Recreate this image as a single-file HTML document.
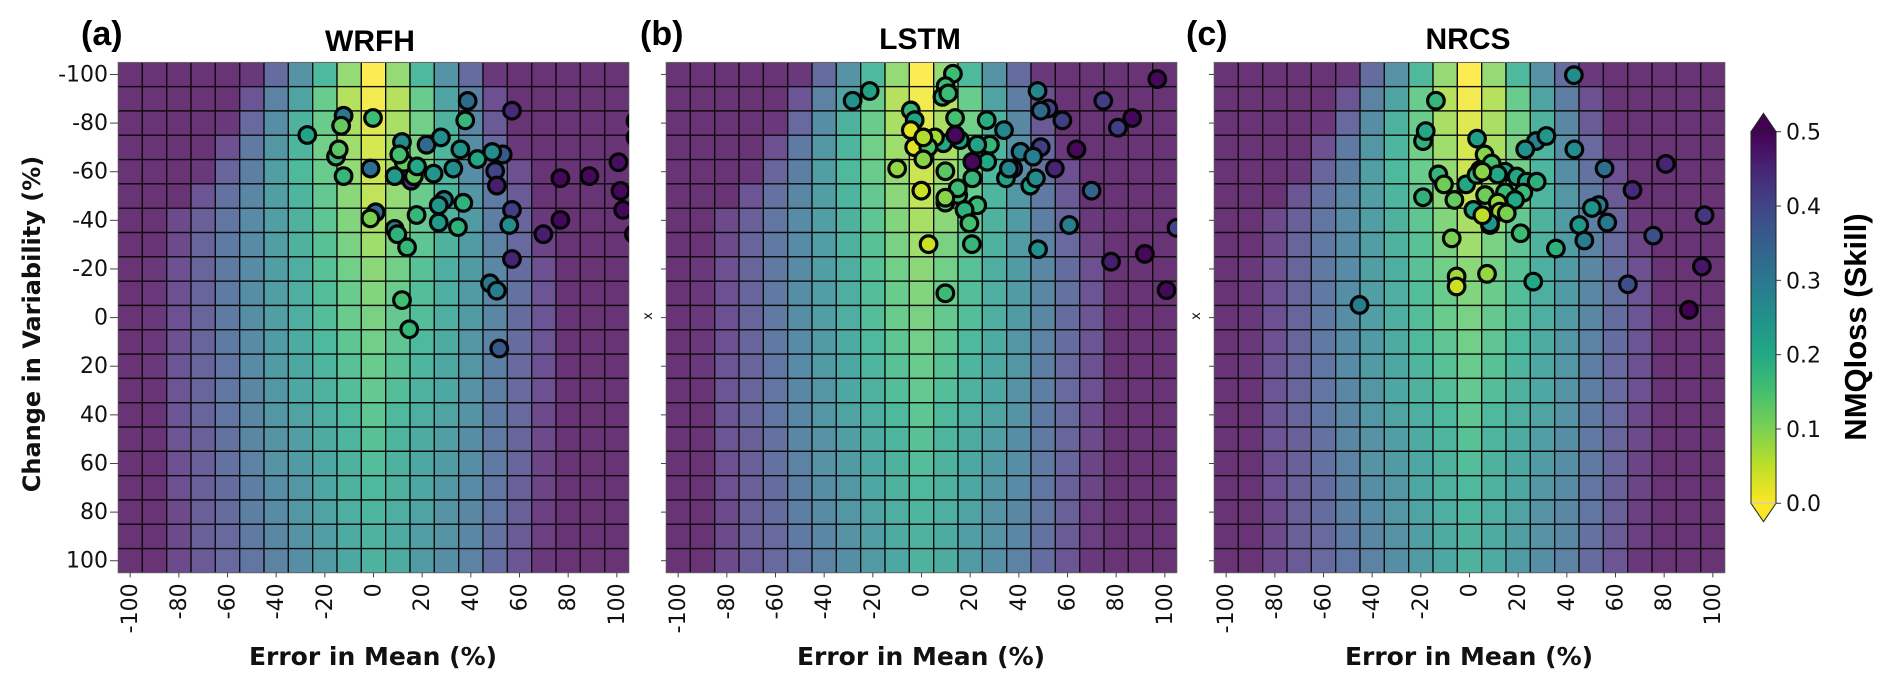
<!DOCTYPE html>
<html lang="en">
<head>
<meta charset="utf-8">
<title>NMQloss skill by error in mean and change in variability</title>
<style>
html,body{margin:0;padding:0;background:#fff;}
svg{display:block;}
text{fill:#111;}
.tick-label{font-family:"DejaVu Sans",sans-serif;font-size:22px;}
.axis-title{font-family:"DejaVu Sans",sans-serif;font-weight:bold;}
.arial-bold{font-family:"Liberation Sans",sans-serif;font-weight:bold;fill:#000;}
</style>
</head>
<body>
<svg id="figure" xmlns="http://www.w3.org/2000/svg" width="1892" height="688" viewBox="0 0 1892 688">
  <defs id="defs"></defs>
  <text class="arial-bold" x="81" y="45" font-size="34">(a)</text>
  <text class="arial-bold" x="640" y="45" font-size="34">(b)</text>
  <text class="arial-bold" x="1186" y="45" font-size="34">(c)</text>
  <text class="arial-bold" x="370" y="51" font-size="30" text-anchor="middle">WRFH</text>
  <text class="arial-bold" x="920" y="49" font-size="30" text-anchor="middle">LSTM</text>
  <text class="arial-bold" x="1468" y="49" font-size="30" text-anchor="middle">NRCS</text>
  <text class="axis-title" x="373" y="665" font-size="25" text-anchor="middle">Error in Mean (%)</text>
  <text class="axis-title" x="921" y="665" font-size="25" text-anchor="middle">Error in Mean (%)</text>
  <text class="axis-title" x="1469" y="665" font-size="25" text-anchor="middle">Error in Mean (%)</text>
  <text class="axis-title" transform="translate(40 324) rotate(-90)" font-size="24" text-anchor="middle">Change in Variability (%)</text>
  <text class="tick-label" transform="translate(652 316) rotate(-90)" style="font-size:13px" text-anchor="middle">x</text>
  <text class="tick-label" transform="translate(1200 316) rotate(-90)" style="font-size:13px" text-anchor="middle">x</text>
  <text class="arial-bold" transform="translate(1866 327) rotate(-90)" font-size="31" text-anchor="middle">NMQloss (Skill)</text>
</svg>
<script>
// ---------- chart data ----------
const errorInMeanCategories = [-100,-90,-80,-70,-60,-50,-40,-30,-20,-10,0,10,20,30,40,50,60,70,80,90,100];
const changeInVariabilityCategories = [-100,-90,-80,-70,-60,-50,-40,-30,-20,-10,0,10,20,30,40,50,60,70,80,90,100];
const xTickLabels = [-100,-80,-60,-40,-20,0,20,40,60,80,100];
const yTickLabels = [-100,-80,-60,-40,-20,0,20,40,60,80,100];
const colorbarTicks = [0,0.1,0.2,0.3,0.4,0.5];

// NMQloss background grid: one row per change-in-variability category
const lossGrid = [
[.5,.5,.5,.5,.5,.49,.39,.30,.20,.10,.00,.10,.20,.30,.39,.49,.5,.5,.5,.5,.5],
[.5,.5,.5,.5,.5,.44,.34,.26,.15,.07,.01,.07,.15,.26,.35,.45,.5,.5,.5,.5,.5],
[.5,.5,.5,.5,.49,.40,.31,.22,.15,.08,.03,.08,.14,.22,.33,.43,.5,.5,.5,.5,.5],
[.5,.5,.5,.5,.45,.36,.29,.21,.14,.09,.04,.08,.13,.21,.31,.40,.49,.5,.5,.5,.5],
[.5,.5,.5,.49,.41,.35,.27,.20,.15,.10,.05,.09,.14,.21,.31,.38,.45,.5,.5,.5,.5],
[.5,.5,.5,.44,.38,.33,.27,.21,.16,.11,.06,.10,.15,.21,.29,.36,.43,.5,.5,.5,.5],
[.5,.5,.46,.42,.37,.32,.27,.22,.17,.12,.08,.11,.16,.22,.28,.35,.41,.49,.5,.5,.5],
[.5,.5,.46,.41,.36,.32,.27,.22,.18,.13,.09,.13,.17,.22,.28,.34,.40,.47,.5,.5,.5],
[.5,.49,.45,.41,.36,.32,.27,.23,.18,.14,.11,.14,.18,.23,.28,.33,.39,.45,.5,.5,.5],
[.5,.49,.45,.41,.36,.31,.27,.23,.19,.15,.12,.15,.19,.23,.28,.33,.38,.44,.5,.5,.5],
[.5,.49,.45,.41,.36,.31,.27,.23,.19,.15,.13,.16,.19,.23,.28,.33,.39,.44,.5,.5,.5],
[.5,.49,.45,.41,.36,.32,.28,.24,.20,.17,.14,.17,.20,.24,.29,.34,.39,.44,.5,.5,.5],
[.5,.49,.44,.41,.37,.32,.28,.25,.21,.18,.15,.18,.21,.25,.29,.35,.40,.45,.5,.5,.5],
[.5,.5,.44,.41,.37,.33,.29,.25,.22,.19,.16,.19,.22,.25,.30,.35,.40,.45,.5,.5,.5],
[.5,.5,.44,.41,.37,.33,.29,.26,.23,.20,.17,.20,.23,.26,.30,.36,.40,.46,.5,.5,.5],
[.5,.5,.44,.42,.38,.33,.30,.27,.24,.21,.18,.21,.24,.27,.31,.36,.41,.46,.5,.5,.5],
[.5,.5,.45,.42,.38,.34,.30,.28,.25,.22,.19,.22,.25,.28,.31,.36,.41,.47,.5,.5,.5],
[.5,.5,.45,.42,.39,.35,.31,.29,.25,.22,.20,.22,.25,.29,.32,.37,.42,.47,.5,.5,.5],
[.5,.5,.46,.42,.39,.35,.32,.29,.26,.23,.21,.23,.26,.30,.33,.37,.42,.48,.5,.5,.5],
[.5,.5,.46,.42,.40,.36,.33,.30,.27,.24,.22,.24,.27,.30,.33,.38,.43,.48,.5,.5,.5],
[.5,.5,.46,.43,.40,.37,.34,.31,.28,.25,.22,.24,.28,.31,.34,.39,.44,.49,.5,.5,.5]
];

// WRFH points
const wrfhError = [38.7,56.9,-12.3,-13.3,-0.2,37.7,-27.2,11.7,21.8,27.7,35.7,42.7,53.1,48.8,-15.4,-14.3,12.5,10.6,15.5,16.6,17.9,100.7,-1.2,32.8,8.7,24.7,-12.3,50,50.7,76.8,88.7,101.5,102.6,29,26.8,36.9,17.7,0.9,-1.3,26.8,34.7,56.9,55.8,76.8,69.8,8.7,9.8,13.8,56.9,47.9,50.7,11.7,14.7,51.7,107.7,107.7,107];
const wrfhVariability = [-89.1,-85.1,-83,-78.9,-82.1,-81.1,-75.1,-72.2,-71.1,-74.1,-69.2,-65.2,-67.1,-68.1,-66.2,-69.2,-63.7,-67.1,-56.3,-58.2,-62.2,-63.9,-61.3,-61.3,-58.2,-59.2,-58.2,-60.3,-54.3,-57.3,-58.2,-52.1,-44.3,-48.4,-46.2,-47.2,-42.2,-43.3,-40.8,-39.1,-37.2,-44.3,-38.1,-40.2,-34.3,-36.5,-34.3,-28.9,-24.1,-14.1,-11.1,-7.2,4.8,12.7,-80.9,-74.1,-34.4];
const wrfhSkill = [.33,.44,.30,.12,.16,.17,.21,.26,.33,.26,.25,.20,.36,.26,.16,.13,.12,.15,.40,.12,.20,.48,.32,.26,.23,.24,.17,.40,.46,.49,.49,.49,.49,.28,.24,.18,.17,.33,.10,.23,.18,.41,.26,.49,.46,.28,.18,.17,.45,.30,.29,.15,.17,.36,.49,.49,.49];

// LSTM points
const lstmError = [12.9,9.9,8.6,11,-21.3,-28.3,-4.4,-2.8,13.8,26.8,33.9,-4.4,8.97,15.8,5.5,-3,2.8,0.75,0.75,13.9,28.1,22.9,40.7,49,45.9,63.7,27,20.9,-10,9.8,20.9,37.7,34.7,35.9,54.8,44.7,47,69.9,-0.07,15.1,14.9,9.8,9.8,22.9,17.7,19.7,60.7,104.8,2.9,20.7,47.9,77.9,91.8,100.7,9.8,47.7,52.1,49,57.9,74.7,86.6,80.7,96.9];
const lstmVariability = [-100.3,-95.2,-90.8,-92.2,-93.2,-89.2,-85.2,-81.2,-82.1,-81.2,-77.1,-77.1,-71.7,-73,-74.1,-70.1,-70.1,-74.1,-65.1,-75.1,-71.1,-71.1,-68.2,-70.1,-66.2,-69.2,-64.1,-64.1,-61.3,-60.2,-57.3,-61.3,-57.3,-61.3,-61.3,-54.3,-57.3,-52.2,-52.2,-50.4,-53.2,-47.3,-49.3,-46.2,-44.3,-38.8,-38.1,-36.9,-30.2,-30.2,-28.1,-23,-26.2,-11.3,-10,-93.2,-86,-85.1,-81.1,-89.2,-82.1,-78.1,-98.1];
const lstmSkill = [.16,.16,.18,.16,.21,.25,.17,.21,.15,.19,.27,.02,.20,.22,.07,.02,.14,.06,.09,.49,.17,.21,.29,.41,.29,.49,.20,.49,.08,.13,.17,.45,.21,.27,.45,.21,.26,.34,.04,.16,.16,.13,.09,.16,.18,.15,.29,.40,.04,.17,.25,.46,.49,.49,.16,.27,.40,.33,.41,.41,.49,.41,.49];

// NRCS points
const nrcsError = [42.9,-13.8,-19.1,-18,3.1,27.3,31.6,22.9,43.1,55.5,80.7,67,6.2,-12.8,-10.5,-19.1,-6.2,-1.4,4.3,2.9,9.1,14.6,19.4,23.5,27.6,11.6,5.3,14.6,22.1,18.7,6.4,11.6,1.6,12.5,15.3,8.4,8.4,5.3,21,-7.3,35.5,45.1,53.1,50.3,56.6,47.2,75.5,96.6,95.5,65.1,90.2,-45.2,26.2,7.2,-5.3,-5.3];
const nrcsVariability = [-99.7,-89.2,-72.6,-76.7,-73.6,-72.6,-74.7,-69.2,-69.2,-61.3,-63.2,-52.5,-67.1,-58.9,-54.8,-49.5,-48.4,-54.8,-60.7,-58.7,-63.4,-60,-58,-55.9,-55.9,-58.9,-60,-51.5,-51.4,-48.4,-50.4,-47.3,-44.3,-43.6,-42.9,-38.1,-38.8,-42.1,-34.7,-32.6,-28.4,-38.1,-46.3,-45.1,-39.1,-31.7,-33.7,-42.1,-21,-13.7,-3.2,-5.2,-14.8,-18,-16.9,-12.8];
const nrcsSkill = [.26,.17,.18,.20,.22,.28,.24,.25,.26,.32,.45,.44,.09,.17,.11,.18,.12,.20,.11,.17,.15,.22,.20,.20,.18,.20,.09,.16,.16,.20,.11,.08,.20,.07,.10,.10,.24,.05,.16,.10,.18,.24,.29,.25,.30,.29,.38,.42,.47,.38,.50,.29,.20,.08,.07,.04];

// ---------- viridis colormap (standard reference stops) ----------
const viridisStops = ['#440154','#482475','#414487','#355f8d','#2a788e','#21918c','#22a884','#44bf70','#7ad151','#bddf26','#fde725'];

function hexToRgb(h){return [parseInt(h.slice(1,3),16),parseInt(h.slice(3,5),16),parseInt(h.slice(5,7),16)];}
function viridis(t){
  t=Math.max(0,Math.min(1,t));
  var p=t*(viridisStops.length-1),i=Math.min(Math.floor(p),viridisStops.length-2),f=p-i;
  var a=hexToRgb(viridisStops[i]),b=hexToRgb(viridisStops[i+1]);
  return 'rgb('+Math.round(a[0]+(b[0]-a[0])*f)+','+Math.round(a[1]+(b[1]-a[1])*f)+','+Math.round(a[2]+(b[2]-a[2])*f)+')';
}
var VMAX=0.5;
function skillColor(v){return viridis(1-v/VMAX);}

// ---------- drawing helpers ----------
var NS='http://www.w3.org/2000/svg';
var svg=document.getElementById('figure');
function make(tag,attrs,parent){
  var el=document.createElementNS(NS,tag);
  for(var k in attrs){el.setAttribute(k,attrs[k]);}
  (parent||svg).appendChild(el);
  return el;
}

var PANEL_TOP=62.3,PANEL_SIZE_X=511,PANEL_SIZE_Y=510.6,DOMAIN_MIN=-105,DOMAIN_MAX=105;
function xAxis(left,v){return left+(v-DOMAIN_MIN)/(DOMAIN_MAX-DOMAIN_MIN)*PANEL_SIZE_X;}
function yAxis(v){return PANEL_TOP+(v-DOMAIN_MIN)/(DOMAIN_MAX-DOMAIN_MIN)*PANEL_SIZE_Y;}

function drawPanel(id,left,errs,vars,skills,yLabels,yTickLen){
  var clipId='clip-'+id;
  var clip=make('clipPath',{id:clipId},document.getElementById('defs'));
  make('rect',{x:left,y:PANEL_TOP,width:PANEL_SIZE_X,height:PANEL_SIZE_Y},clip);

  var heat=make('g',{'clip-path':'url(#'+clipId+')'});
  
  
  var stepX=10/(DOMAIN_MAX-DOMAIN_MIN)*PANEL_SIZE_X,stepY=10/(DOMAIN_MAX-DOMAIN_MIN)*PANEL_SIZE_Y;
  changeInVariabilityCategories.forEach(function(yc,r){
    errorInMeanCategories.forEach(function(xc,c){
      var cell=make('rect',{x:xAxis(left,xc)-stepX/2,y:yAxis(yc)-stepY/2,width:stepX,height:stepY,fill:skillColor(lossGrid[r][c]),'fill-opacity':0.8,stroke:'#0d0d0d','stroke-width':1.3},heat);
      
      
    });
  });

  var frame=make('rect',{x:left,y:PANEL_TOP,width:PANEL_SIZE_X,height:PANEL_SIZE_Y,fill:'none',stroke:'#888','stroke-width':0.8});
  
  

  var pts=make('g',{'clip-path':'url(#'+clipId+')'});
  
  
  errs.forEach(function(e,i){
    var dot=make('circle',{cx:xAxis(left,e),cy:yAxis(vars[i]),r:8.3,fill:skillColor(skills[i]),stroke:'#050505','stroke-width':3.2},pts);
    
    
  });

  xTickLabels.forEach(function(v){
    var x=xAxis(left,v),bottom=PANEL_TOP+PANEL_SIZE_Y;
    var t=make('line',{x1:x,x2:x,y1:bottom,y2:bottom+4.5,stroke:'#444','stroke-width':1});
    
    
    var lab=make('text',{'class':'tick-label',transform:'translate('+(x-1)+' '+(bottom+10.5)+') rotate(-90)','text-anchor':'end',dy:'0.36em'});
    
    
    lab.textContent=String(v);
  });
  yTickLabels.forEach(function(v){
    var y=yAxis(v);
    var t=make('line',{x1:left-yTickLen,x2:left,y1:y,y2:y,stroke:'#444','stroke-width':1});
    
    
    if(yLabels){
      var lab=make('text',{'class':'tick-label',x:left-yTickLen-2,y:y-1,dy:'0.36em','text-anchor':'end'});
      
      
      lab.textContent=String(v);
    }
  });
}

drawPanel('wrfh',118,wrfhError,wrfhVariability,wrfhSkill,true,8);
drawPanel('lstm',666,lstmError,lstmVariability,lstmSkill,false,5);
drawPanel('nrcs',1214,nrcsError,nrcsVariability,nrcsSkill,false,5);

// ---------- colorbar ----------
var CB_LEFT=1751,CB_RIGHT=1776,CB_TOP=131.7,CB_BOTTOM=503.3;
function cbAxis(v){return CB_BOTTOM-(v/VMAX)*(CB_BOTTOM-CB_TOP);}
var grad=make('linearGradient',{id:'cbar-gradient',x1:0,y1:1,x2:0,y2:0},document.getElementById('defs'));
viridisStops.slice().reverse().forEach(function(c,i,arr){
  make('stop',{offset:(i/(arr.length-1)),'stop-color':c},grad);
});
var cbHigh=make('polygon',{points:CB_LEFT+','+CB_TOP+' '+(CB_LEFT+CB_RIGHT)/2+',113.3 '+CB_RIGHT+','+CB_TOP,fill:'#440154',stroke:'#222','stroke-width':1});


var cbLow=make('polygon',{points:CB_LEFT+','+CB_BOTTOM+' '+(CB_LEFT+CB_RIGHT)/2+',521.7 '+CB_RIGHT+','+CB_BOTTOM,fill:'#fde725',stroke:'#222','stroke-width':1});


var cbRect=make('rect',{x:CB_LEFT,y:CB_TOP,width:CB_RIGHT-CB_LEFT,height:CB_BOTTOM-CB_TOP,fill:'url(#cbar-gradient)',stroke:'#222','stroke-width':1});


var cbLine=make('line',{x1:CB_LEFT+0.5,x2:CB_RIGHT-0.5,y1:CB_BOTTOM,y2:CB_BOTTOM,stroke:'#fff','stroke-width':1});


colorbarTicks.forEach(function(v){
  var y=cbAxis(v);
  var t=make('line',{x1:CB_RIGHT,x2:CB_RIGHT+5,y1:y,y2:y,stroke:'#333','stroke-width':1});
  
  
  var lab=make('text',{'class':'tick-label',x:1786,y:y,dy:'0.36em'});
  
  
  lab.textContent=v.toFixed(1);
});
</script>
</body>
</html>
